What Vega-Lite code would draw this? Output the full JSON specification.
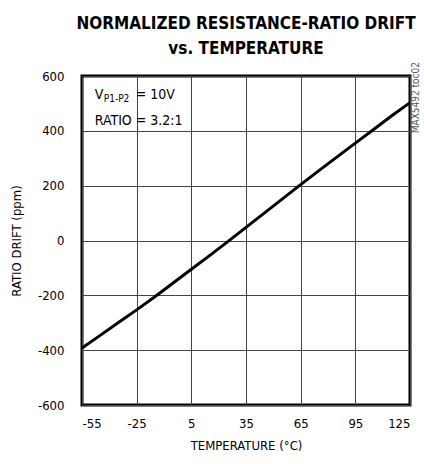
{
  "$schema": "https://vega.github.io/schema/vega-lite/v6.json",
  "autosize": "none",
  "width": 328,
  "height": 329,
  "padding": {"left": 82, "top": 76, "right": 14, "bottom": 59},
  "background": "white",
  "title": {
    "text": ["NORMALIZED RESISTANCE-RATIO DRIFT", "vs. TEMPERATURE"],
    "font": "DejaVu Sans Condensed",
    "fontSize": 17,
    "fontWeight": "bold",
    "lineHeight": 25,
    "anchor": "middle",
    "offset": 4,
    "color": "black"
  },
  "config": {
    "view": {"stroke": "black", "strokeWidth": 3},
    "axis": {
      "labelFont": "DejaVu Sans Condensed",
      "titleFont": "DejaVu Sans Condensed",
      "labelFontSize": 13,
      "titleFontSize": 13,
      "titleFontWeight": "normal",
      "labelColor": "black",
      "titleColor": "black",
      "ticks": false,
      "domain": false,
      "gridColor": "#444",
      "gridWidth": 1,
      "gridOpacity": 1,
      "labelExpr": "'' + datum.value"
    }
  },
  "data": {
    "values": [
      {"t": -55, "d": -392}, {"t": -45, "d": -346}, {"t": -35, "d": -299},
      {"t": -25, "d": -253}, {"t": -15, "d": -205}, {"t": -5, "d": -155},
      {"t": 5, "d": -105}, {"t": 15, "d": -55}, {"t": 25, "d": -4},
      {"t": 35, "d": 48}, {"t": 45, "d": 100}, {"t": 55, "d": 152},
      {"t": 65, "d": 204}, {"t": 75, "d": 255}, {"t": 85, "d": 305},
      {"t": 95, "d": 355}, {"t": 105, "d": 405}, {"t": 115, "d": 455},
      {"t": 125, "d": 503}
    ]
  },
  "layer": [
    {
      "mark": {"type": "line", "color": "black", "strokeWidth": 3},
      "encoding": {
        "x": {
          "field": "t", "type": "quantitative",
          "scale": {"domain": [-55, 125], "nice": false, "zero": false},
          "axis": {"values": [-55, -25, 5, 35, 65, 95, 125], "labelPadding": 12, "title": "TEMPERATURE (°C)", "titlePadding": 9}
        },
        "y": {
          "field": "d", "type": "quantitative",
          "scale": {"domain": [-600, 600], "nice": false},
          "axis": {"values": [-600, -400, -200, 0, 200, 400, 600], "labelPadding": 18, "title": "RATIO DRIFT (ppm)", "titlePadding": 14}
        }
      }
    },
    {
      "data": {"values": [
        {"t": -48, "d": 516, "s": "V"},
        {"t": -48, "d": 421, "s": "RATIO = 3.2:1"}
      ]},
      "mark": {"type": "text", "align": "left", "baseline": "alphabetic", "font": "DejaVu Sans Condensed", "fontSize": 14, "color": "black"},
      "encoding": {"x": {"field": "t", "type": "quantitative"}, "y": {"field": "d", "type": "quantitative"}, "text": {"field": "s"}}
    },
    {
      "data": {"values": [{"t": -48, "d": 516, "s": "P1-P2"}]},
      "mark": {"type": "text", "align": "left", "baseline": "alphabetic", "font": "DejaVu Sans Condensed", "fontSize": 10, "color": "black", "dx": 9, "dy": 3},
      "encoding": {"x": {"field": "t", "type": "quantitative"}, "y": {"field": "d", "type": "quantitative"}, "text": {"field": "s"}}
    },
    {
      "data": {"values": [{"t": -48, "d": 516, "s": "= 10V"}]},
      "mark": {"type": "text", "align": "left", "baseline": "alphabetic", "font": "DejaVu Sans Condensed", "fontSize": 14, "color": "black", "dx": 41},
      "encoding": {"x": {"field": "t", "type": "quantitative"}, "y": {"field": "d", "type": "quantitative"}, "text": {"field": "s"}}
    },
    {
      "data": {"values": [{"t": 125, "d": 600, "s": "MAX5492 toc02"}]},
      "mark": {"type": "text", "angle": 270, "align": "right", "baseline": "middle", "font": "DejaVu Sans Condensed", "fontSize": 10, "color": "#555", "dx": 14, "dy": 6},
      "encoding": {"x": {"field": "t", "type": "quantitative"}, "y": {"field": "d", "type": "quantitative"}, "text": {"field": "s"}}
    }
  ]
}
